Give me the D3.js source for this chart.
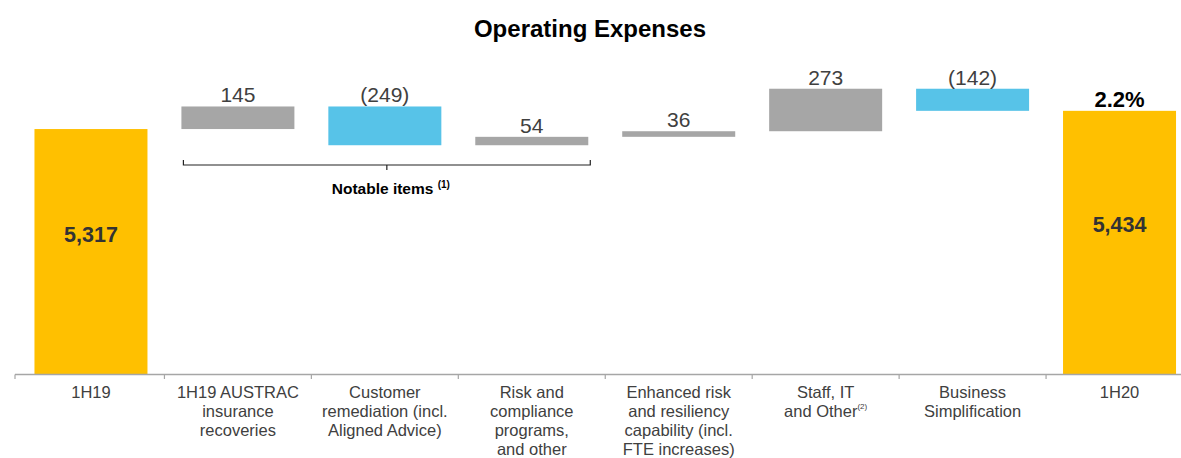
<!DOCTYPE html>
<html>
<head>
<meta charset="utf-8">
<script src="https://cdn.jsdelivr.net/npm/d3@7"></script>
<style>
  body { margin: 0; background: #fff; }
  svg { font-family: "Liberation Sans", Arial, sans-serif; }
</style>
</head>
<body>
<div id="chart"></div>
<script>
// data
var categories = ["1H19", "1H19 AUSTRAC insurance recoveries", "Customer remediation (incl. Aligned Advice)",
  "Risk and compliance programs, and other", "Enhanced risk and resiliency capability (incl. FTE increases)",
  "Staff, IT and Other", "Business Simplification", "1H20"];
var categoryLines = [
  ["1H19"],
  ["1H19 AUSTRAC", "insurance", "recoveries"],
  ["Customer", "remediation (incl.", "Aligned Advice)"],
  ["Risk and", "compliance", "programs,", "and other"],
  ["Enhanced risk", "and resiliency", "capability (incl.", "FTE increases)"],
  ["Staff, IT", "and Other"],
  ["Business", "Simplification"],
  ["1H20"]
];
var values = [5317, 145, -249, 54, 36, 273, -142, 5434];
var kinds = ["total", "up", "down", "up", "up", "up", "down", "total"];
var valueLabels = ["5,317", "145", "(249)", "54", "36", "273", "(142)", "5,434"];
var changeLabel = "2.2%";
var yMin = 3740, yMax = 5600;

var W = 1181, H = 458;
var svg = d3.select("#chart").append("svg").attr("width", W).attr("height", H);

// title
svg.append("text")
  .attr("x", 590).attr("y", 37)
  .attr("text-anchor", "middle")
  .attr("font-size", 24).attr("font-weight", "bold").attr("fill", "#000")
  .text("Operating Expenses");

var x = d3.scaleBand().domain(categories).range([17.5, 1193]).padding(0);
var y = d3.scaleLinear().domain([yMin, yMax]).range([374.5, 85]);
var barW = 113;

// running totals
var bars = [];
var run = 0;
values.forEach(function(v, i) {
  if (kinds[i] == "total") {
    bars.push({ c: categories[i], y0: yMin, y1: v, kind: "total", label: valueLabels[i] });
    run = v;
  } else {
    bars.push({ c: categories[i], y0: run, y1: run + v, kind: kinds[i], label: valueLabels[i] });
    run = run + v;
  }
});

var colors = { total: "#FFC000", up: "#A6A6A6", down: "#57C3E8" };

svg.selectAll("rect.bar").data(bars).enter().append("rect")
  .attr("class", "bar")
  .attr("x", function(d) { return x(d.c) + x.bandwidth() / 2 - barW / 2; })
  .attr("width", barW)
  .attr("y", function(d) { return y(Math.max(d.y0, d.y1)); })
  .attr("height", function(d) { return Math.abs(y(d.y0) - y(d.y1)); })
  .attr("fill", function(d) { return colors[d.kind]; });

// value labels for the steps
svg.selectAll("text.val").data(bars.filter(function(d) { return d.kind != "total"; })).enter().append("text")
  .attr("class", "val")
  .attr("x", function(d) { return x(d.c) + x.bandwidth() / 2; })
  .attr("y", function(d) { return y(Math.max(d.y0, d.y1)) - 4; })
  .attr("text-anchor", "middle")
  .attr("font-size", 21).attr("fill", "#404040")
  .text(function(d) { return d.label; });

// labels inside total bars
svg.selectAll("text.tot").data(bars.filter(function(d) { return d.kind == "total"; })).enter().append("text")
  .attr("class", "tot")
  .attr("x", function(d) { return x(d.c) + x.bandwidth() / 2; })
  .attr("y", function(d) { return y(d.y0) + (y(d.y1) - y(d.y0)) * 0.54; })
  .attr("text-anchor", "middle")
  .attr("font-size", 21.5).attr("font-weight", "bold").attr("fill", "#333")
  .text(function(d) { return d.label; });

// growth label above 1H20
var last = bars[bars.length - 1];
svg.append("text")
  .attr("x", x(last.c) + x.bandwidth() / 2)
  .attr("y", y(last.y1) - 4)
  .attr("text-anchor", "middle")
  .attr("font-size", 22).attr("font-weight", "bold").attr("fill", "#000")
  .text(changeLabel);

// x axis
var axisG = svg.append("g");
axisG.append("line")
  .attr("x1", 15).attr("x2", W).attr("y1", 374.5).attr("y2", 374.5)
  .attr("stroke", "#A6A6A6").attr("stroke-width", 1.5);
var ticks = [15].concat(categories.slice(1).map(function(c) { return x(c); }));
axisG.selectAll("line.tick").data(ticks).enter().append("line")
  .attr("x1", function(d) { return d; }).attr("x2", function(d) { return d; })
  .attr("y1", 374.5).attr("y2", 379)
  .attr("stroke", "#A6A6A6").attr("stroke-width", 1.2);

categories.forEach(function(c, i) {
  var t = svg.append("text")
    .attr("x", x(c) + x.bandwidth() / 2)
    .attr("y", 398)
    .attr("text-anchor", "middle")
    .attr("font-size", 16.5).attr("fill", "#404040");
  categoryLines[i].forEach(function(line, j) {
    t.append("tspan")
      .attr("x", x(c) + x.bandwidth() / 2)
      .attr("dy", j == 0 ? 0 : 19)
      .text(line);
  });
  if (c == "Staff, IT and Other") {
    t.append("tspan").attr("font-size", 8).attr("dy", -8).text("(2)");
  }
});

// bracket for notable items
var bx0 = x(categories[1]) + x.bandwidth() / 2 - barW / 2 + 2;
var bx1 = x(categories[3]) + x.bandwidth() / 2 + barW / 2 + 2;
var bm = (bx0 + bx1) / 2;
svg.append("path")
  .attr("d", "M" + bx0 + ",160 V165 H" + bx1 + " V160 M" + bm + ",165 V170")
  .attr("fill", "none").attr("stroke", "#222").attr("stroke-width", 1.2);
var nt = svg.append("text")
  .attr("x", bm + 4).attr("y", 194)
  .attr("text-anchor", "middle")
  .attr("font-size", 15.5).attr("font-weight", "bold").attr("fill", "#000");
nt.append("tspan").text("Notable items ");
nt.append("tspan").attr("font-size", 10).attr("dy", -6).text("(1)");
</script>
</body>
</html>
